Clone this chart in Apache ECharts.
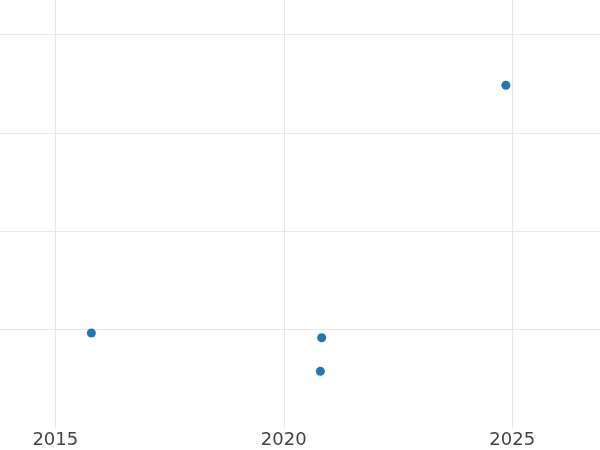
<!DOCTYPE html>
<html>
<head>
<meta charset="utf-8">
<script src="https://cdn.jsdelivr.net/npm/echarts@6/dist/echarts.min.js"></script>
<style>html,body{margin:0;padding:0;background:#fff}#c{width:600px;height:450px}</style>
</head>
<body>
<div id="c"></div>
<script>
var years = [2015.79, 2020.83, 2020.80, 2024.86];
var values = [0.962, 0.914, 0.572, 3.485];
var xTicks = [2015, 2020, 2025];

var chart = echarts.init(document.getElementById('c'), null, {renderer: 'canvas'});
var pts = years.map(function (x, i) { return [x, values[i]]; });
chart.setOption({
  animation: false,
  backgroundColor: '#ffffff',
  grid: {left: 0, right: 0, top: 0, bottom: 22.5, containLabel: false},
  xAxis: {
    type: 'value', min: 2013.79, max: 2026.92,
    axisLine: {show: false},
    axisTick: {show: false, customValues: xTicks},
    axisLabel: {show: true, color: '#444', fontFamily: 'DejaVu Sans', fontSize: 18, margin: 4,
      customValues: xTicks, formatter: function (v) { return String(v); }},
    splitLine: {show: true, lineStyle: {color: '#e8e8e8', width: 1}}
  },
  yAxis: {
    type: 'value', min: 0, max: 4.353, interval: 1,
    axisLine: {show: false}, axisTick: {show: false}, axisLabel: {show: false},
    splitLine: {show: true, showMinLine: false, showMaxLine: false, lineStyle: {color: '#e8e8e8', width: 1}}
  },
  series: [{
    type: 'scatter', data: pts, symbolSize: 9,
    itemStyle: {color: '#1f77b4', opacity: 1}
  }]
});
</script>
</body>
</html>
